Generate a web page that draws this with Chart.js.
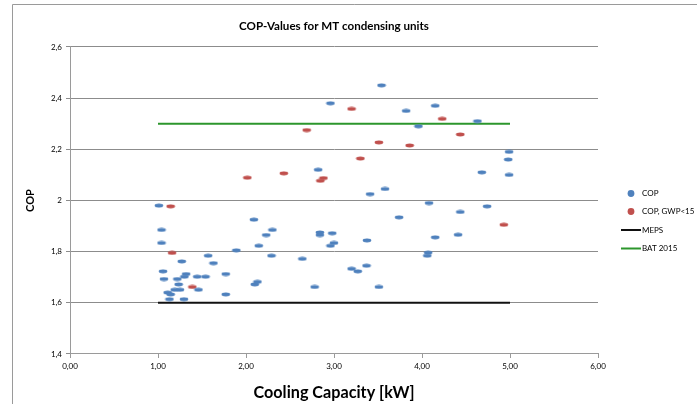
<!DOCTYPE html>
<html><head><meta charset="utf-8">
<script src="https://cdn.jsdelivr.net/npm/chart.js@4"></script>
<style>html,body{margin:0;padding:0;background:#fff}#wrap{width:697px;height:404px}</style>
</head><body><div id="wrap"><canvas id="c" width="697" height="404"></canvas></div>
<script>
// ---- data ----
const seriesNames = ['COP', 'COP, GWP<15', 'MEPS', 'BAT 2015'];
const copX = [2.96,3.54,3.82,4.15,4.63,3.96,2.82,4.99,4.98,4.68,4.99,3.58,3.41,1.01,2.09,1.04,2.30,2.23,2.84,2.84,2.98,3.00,2.96,1.04,2.145,1.89,1.57,2.29,2.64,1.27,1.63,1.057,1.32,1.77,1.30,1.446,1.54,1.068,1.22,2.13,2.10,1.235,2.78,1.46,1.19,1.25,1.11,1.144,1.77,1.13,1.295,4.08,4.74,4.435,3.74,4.41,4.15,3.375,4.07,4.06,3.20,3.27,3.37,3.51];
const copY = [2.38,2.45,2.35,2.37,2.31,2.29,2.12,2.19,2.16,2.11,2.10,2.045,2.025,1.98,1.925,1.885,1.885,1.865,1.875,1.865,1.872,1.834,1.823,1.834,1.823,1.805,1.784,1.784,1.772,1.762,1.755,1.723,1.7125,1.7125,1.702,1.702,1.702,1.693,1.693,1.682,1.672,1.672,1.662,1.651,1.651,1.651,1.64,1.633,1.633,1.614,1.614,1.99,1.977,1.955,1.934,1.866,1.856,1.844,1.796,1.784,1.733,1.723,1.745,1.662];
const gwpX = [2.69,2.015,2.43,2.88,2.845,3.20,4.23,4.435,3.51,3.86,3.30,1.144,1.16,1.39,4.93];
const gwpY = [2.275,2.089,2.106,2.0875,2.077,2.358,2.319,2.258,2.227,2.215,2.164,1.977,1.795,1.662,1.905];
const mepsX = [1, 5];
const mepsY = [1.6, 1.6];
const batX = [1, 5];
const batY = [2.3, 2.3];
const xTickValues = [0, 1, 2, 3, 4, 5, 6];
const xTickLabels = ['0,00', '1,00', '2,00', '3,00', '4,00', '5,00', '6,00'];
const yTickValues = [1.4, 1.6, 1.8, 2.0, 2.2, 2.4, 2.6];
const yTickLabels = ['1,4', '1,6', '1,8', '2', '2,2', '2,4', '2,6'];

const FONT = 'Lato, "Liberation Sans", sans-serif';
const toPts = (xs, ys) => xs.map((x, i) => ({x: x, y: ys[i]}));

function ellipseMarker(color) {
  const c = document.createElement('canvas');
  c.width = 10; c.height = 5;
  const g = c.getContext('2d');
  g.fillStyle = color;
  g.beginPath();
  g.ellipse(5, 2.5, 4.3, 1.9, 0, 0, Math.PI * 2);
  g.fill();
  return c;
}
const BLUE = '#4f81bd', RED = '#c0504d', BLACK = '#111111', GREEN = '#2c962c';

const borderPlugin = {
  id: 'outerBorder',
  beforeDraw(chart) {
    const ctx = chart.ctx;
    ctx.save();
    ctx.fillStyle = '#fff';
    ctx.fillRect(0, 0, chart.width, chart.height);
    ctx.strokeStyle = '#9a9a9a';
    ctx.lineWidth = 1;
    ctx.beginPath();
    ctx.moveTo(12.5, chart.height);
    ctx.lineTo(12.5, 4.5);
    ctx.lineTo(chart.width, 4.5);
    ctx.stroke();
    ctx.restore();
  }
};

const legendPlugin = {
  id: 'sideLegend',
  afterDraw(chart) {
    const ctx = chart.ctx;
    const ys = [193.5, 211.5, 230, 248.5];
    ctx.save();
    ctx.font = '8px ' + FONT;
    ctx.textBaseline = 'middle';
    chart.data.datasets.forEach((ds, i) => {
      const y = ys[i];
      if (ds.showLine) {
        ctx.strokeStyle = ds.borderColor;
        ctx.lineWidth = 2;
        ctx.beginPath();
        ctx.moveTo(621, y);
        ctx.lineTo(641, y);
        ctx.stroke();
      } else {
        ctx.fillStyle = ds.markerColor;
        ctx.beginPath();
        ctx.arc(631, y, 3.4, 0, Math.PI * 2);
        ctx.fill();
      }
      ctx.fillStyle = '#000';
      ctx.fillText(ds.label, 642, y);
    });
    ctx.restore();
  }
};

new Chart(document.getElementById('c'), {
  type: 'scatter',
  data: {
    datasets: [
      {label: seriesNames[0], data: toPts(copX, copY), pointStyle: ellipseMarker(BLUE), markerColor: BLUE, backgroundColor: BLUE, borderColor: BLUE},
      {label: seriesNames[1], data: toPts(gwpX, gwpY), pointStyle: ellipseMarker(RED), markerColor: RED, backgroundColor: RED, borderColor: RED},
      {label: seriesNames[2], data: toPts(mepsX, mepsY), showLine: true, pointRadius: 0, borderColor: BLACK, borderWidth: 2},
      {label: seriesNames[3], data: toPts(batX, batY), showLine: true, pointRadius: 0, borderColor: GREEN, borderWidth: 2}
    ]
  },
  options: {
    responsive: false,
    animation: false,
    events: [],
    layout: {padding: {left: 0, top: 0, right: 99, bottom: 0}},
    plugins: {
      legend: {display: false},
      tooltip: {enabled: false},
      title: {
        display: true,
        fullSize: false,
        text: 'COP-Values for MT condensing units',
        color: '#000',
        font: {family: FONT, size: 11.6, weight: 'bold'},
        padding: {top: 19, bottom: 14.04}
      }
    },
    scales: {
      x: {
        type: 'linear', min: 0, max: 6,
        afterBuildTicks: s => { s.ticks = xTickValues.map(v => ({value: v})); },
        afterFit: s => { s.height = 50; },
        ticks: {
          callback: (v, i) => xTickLabels[i],
          font: {family: FONT, size: 8}, color: '#000', padding: 4, maxRotation: 0
        },
        grid: {display: true, drawOnChartArea: false, drawTicks: true, tickLength: 4, color: '#9a9a9a'},
        border: {display: true, color: '#9a9a9a', width: 1},
        title: {
          display: true, text: 'Cooling Capacity [kW]', color: '#000',
          font: {family: FONT, size: 16.2, weight: 'bold'},
          padding: {top: 0, bottom: 1.3}
        }
      },
      y: {
        type: 'linear', min: 1.4, max: 2.6,
        afterBuildTicks: s => { s.ticks = yTickValues.map(v => ({value: v})); },
        afterFit: s => { s.width = 70; },
        ticks: {
          callback: (v, i) => yTickLabels[i],
          font: {family: FONT, size: 8}, color: '#000', padding: 4
        },
        grid: {display: true, drawTicks: true, tickLength: 4, color: '#8c8c8c', lineWidth: 1},
        border: {display: true, color: '#9a9a9a', width: 1},
        title: {
          display: true, text: 'COP', color: '#000',
          font: {family: FONT, size: 11, weight: 'bold'},
          padding: {top: 23.4, bottom: 0}
        }
      }
    }
  },
  plugins: [borderPlugin, legendPlugin]
});
</script>
</body></html>
